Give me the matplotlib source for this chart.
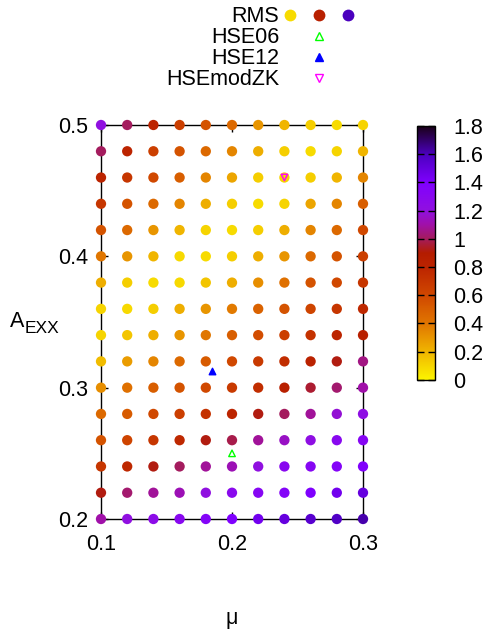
import numpy as np
import matplotlib
matplotlib.use("Agg")
import matplotlib.pyplot as plt
from matplotlib.colors import LinearSegmentedColormap
from matplotlib.lines import Line2D
from matplotlib.legend_handler import HandlerTuple

plt.rcParams['font.family'] = ['Liberation Sans', 'DejaVu Sans']
plt.rcParams['mathtext.default'] = 'regular'

# grid of screening parameter mu and exact-exchange fraction
mu = [0.10, 0.12, 0.14, 0.16, 0.18, 0.20, 0.22, 0.24, 0.26, 0.28, 0.30]
a_exx = [0.50, 0.48, 0.46, 0.44, 0.42, 0.40, 0.38, 0.36,
         0.34, 0.32, 0.30, 0.28, 0.26, 0.24, 0.22, 0.20]

# RMS error, one row per A_EXX value (top to bottom)
rms = [
    [1.20, 1.00, 0.80, 0.65, 0.55, 0.45, 0.30, 0.20, 0.12, 0.08, 0.10],
    [1.00, 0.80, 0.65, 0.55, 0.45, 0.35, 0.22, 0.12, 0.08, 0.10, 0.20],
    [0.80, 0.70, 0.60, 0.50, 0.35, 0.25, 0.12, 0.10, 0.12, 0.20, 0.35],
    [0.70, 0.55, 0.45, 0.35, 0.22, 0.12, 0.08, 0.10, 0.25, 0.35, 0.50],
    [0.55, 0.45, 0.30, 0.20, 0.10, 0.08, 0.12, 0.22, 0.35, 0.45, 0.60],
    [0.40, 0.30, 0.20, 0.09, 0.08, 0.12, 0.22, 0.30, 0.45, 0.55, 0.65],
    [0.22, 0.12, 0.08, 0.09, 0.15, 0.22, 0.32, 0.42, 0.55, 0.60, 0.70],
    [0.10, 0.09, 0.12, 0.22, 0.30, 0.38, 0.48, 0.55, 0.62, 0.70, 0.78],
    [0.10, 0.15, 0.22, 0.30, 0.40, 0.50, 0.58, 0.65, 0.72, 0.80, 0.85],
    [0.18, 0.28, 0.35, 0.45, 0.52, 0.60, 0.68, 0.75, 0.82, 0.92, 1.05],
    [0.32, 0.42, 0.50, 0.55, 0.60, 0.68, 0.75, 0.85, 0.95, 1.02, 1.10],
    [0.45, 0.52, 0.60, 0.65, 0.72, 0.80, 0.92, 1.00, 1.08, 1.18, 1.22],
    [0.55, 0.62, 0.70, 0.78, 0.92, 0.98, 1.08, 1.15, 1.22, 1.30, 1.32],
    [0.70, 0.78, 0.92, 1.00, 1.08, 1.12, 1.20, 1.30, 1.32, 1.35, 1.38],
    [0.92, 1.02, 1.08, 1.12, 1.20, 1.28, 1.32, 1.35, 1.40, 1.45, 1.50],
    [1.10, 1.20, 1.25, 1.30, 1.35, 1.40, 1.45, 1.50, 1.55, 1.58, 1.62],
]

# reference functionals (mu, A_EXX)
hse06 = (0.20, 0.25)
hse12 = (0.185, 0.313)
hsemodzk = (0.24, 0.46)

X, Y = np.meshgrid(mu, a_exx)
Z = np.array(rms)

# gnuplot-like palette, yellow -> orange -> red -> purple -> black
nodes = [0.0, 0.2, 0.4, 0.6, 0.8, 0.9, 1.0, 1.1, 1.2, 1.4, 1.6, 1.8]
cols = ['#fcf400', '#f0b400', '#e07400', '#d04800', '#bc2400', '#b41c00',
        '#a41c5c', '#a010a8', '#9010e0', '#8000ff', '#4c00c0', '#1a0018']
cmap = LinearSegmentedColormap.from_list(
    'pal', list(zip([n / 1.8 for n in nodes], cols)))

fig = plt.figure(figsize=(4.87, 6.3), dpi=100)
ax = fig.add_axes([0.2074, 0.1762, 0.538, 0.6254])

sc = ax.scatter(X.ravel(), Y.ravel(), c=Z.ravel(), cmap=cmap, vmin=0, vmax=1.8,
                s=55, edgecolors='none', clip_on=False, zorder=3)
ax.scatter(*hse06, marker='^', s=22, facecolors='none', edgecolors='#00ff00',
           linewidths=1.0, zorder=4, clip_on=False)
ax.scatter(*hse12, marker='^', s=22, color='#0000ff', zorder=4, clip_on=False)
ax.scatter(*hsemodzk, marker='v', s=22, facecolors='none',
           edgecolors='#ff00ff', linewidths=1.0, zorder=4, clip_on=False)

ax.set_xlim(0.1, 0.3)
ax.set_ylim(0.2, 0.5)
ax.set_xticks([0.1, 0.2, 0.3])
ax.set_xticklabels(['0.1', '0.2', '0.3'])
ax.set_yticks([0.2, 0.3, 0.4, 0.5])
ax.set_yticklabels(['0.2', '0.3', '0.4', '0.5'])
ax.tick_params(axis='x', direction='in', top=True, length=5, width=1,
               labelsize=15.5, pad=11)
ax.tick_params(axis='y', direction='in', right=True, length=5, width=1,
               labelsize=15.5, pad=9)
for s in ax.spines.values():
    s.set_linewidth(1.0)

ax.set_xlabel('μ', fontsize=15.5, labelpad=38)
# A_EXX label, subscript drawn a bit larger than mathtext would
fig.text(10 / 487, 1 - 327 / 630, 'A', fontsize=15.5, va='baseline', ha='left')
fig.text(25 / 487, 1 - 333 / 630, 'EXX', fontsize=12.5, va='baseline', ha='left')

# colour box
cax = fig.add_axes([0.856, 0.397, 0.037, 0.403])
cb = fig.colorbar(sc, cax=cax, ticks=np.arange(0, 1.81, 0.2))
cb.ax.set_yticklabels(['0', '0.2', '0.4', '0.6', '0.8', '1', '1.2', '1.4', '1.6', '1.8'])
cb.ax.tick_params(direction='in', left=True, right=True, length=5, width=1,
                  labelsize=15.5, pad=13)
cb.outline.set_linewidth(1.0)

# gnuplot-style key above the plot
rms_h = tuple(Line2D([], [], ls='none', marker='o', ms=8.5, mec='none',
                     color=cmap(v / 1.8)) for v in [0.08, 0.85, 1.6])
h06 = Line2D([], [], ls='none', marker='^', ms=5.5, mfc='none', mec='#00ff00')
h12 = Line2D([], [], ls='none', marker='^', ms=5.5, color='#0000ff')
hzk = Line2D([], [], ls='none', marker='v', ms=5.5, mfc='none', mec='#ff00ff')
fig.legend([rms_h, h06, h12, hzk], ['RMS', 'HSE06', 'HSE12', 'HSEmodZK'],
           handler_map={tuple: HandlerTuple(ndivide=None, pad=0.9)},
           markerfirst=False, frameon=False, fontsize=15.5, handlelength=3.1,
           handletextpad=0.3, labelspacing=0.0, borderpad=0,
           loc='upper right', bbox_to_anchor=(363 / 487, 1.007))

fig.savefig('out.png', dpi=100)
